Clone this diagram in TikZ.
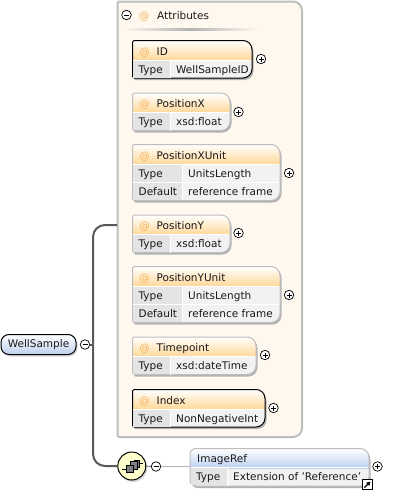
\documentclass[tikz,border=0pt]{standalone}
\usepackage{fontspec}
\setmainfont{DejaVu Sans}
\usetikzlibrary{calc,shadows,arrows.meta}
\definecolor{attrfill}{HTML}{FFF8EF}
\definecolor{attrline}{HTML}{BEBEBE}
\definecolor{headorange}{HTML}{FFD899}
\definecolor{headblue}{HTML}{BCD0F0}
\definecolor{keycell}{HTML}{E4E4E4}
\definecolor{valcell}{HTML}{F2F2F2}
\definecolor{seqfill}{HTML}{FFFFCC}
\definecolor{atsign}{HTML}{F5B55A}
\tikzset{>=latex,
  txt/.style={font=\fontsize{10.5}{12}\selectfont, inner sep=0pt, text=black!90},
  btn/.style={circle, draw=black, fill=white, line width=0.7pt, minimum size=9.5pt, inner sep=0pt},
  plusbtn/.style={btn, path picture={\draw[line width=0.6pt] (path picture bounding box.center) +(-2.5pt,0) -- +(2.5pt,0) +(0,-2.5pt) -- +(0,2.5pt);}},
  minusbtn/.style={btn, path picture={\draw[line width=0.6pt] (path picture bounding box.center) +(-2.5pt,0) -- +(2.5pt,0);}},
  trunk/.style={line width=2pt, draw=black!65, rounded corners=12pt},
  thinlink/.style={line width=1pt, draw=black!30},
  seqpart/.style={draw=black, fill=black!50, line width=0.6pt}
}
\newcommand{\leftrad}{1.5pt}
% frame of a box: left, top, right, bottom
\newcommand{\schemaframe}[4]{(#1,#4) [rounded corners=\leftrad] -- (#1,#2) [rounded corners=9pt] -- (#3,#2) -- (#3,#4) [rounded corners=\leftrad] -- cycle}
% name, left, top, right, bottom, head colour, line colour, line width
\newcommand{\xsdframe}[8]{
  \fill[black!30] \schemaframe{#2+1.5}{#3+2}{#4+1.5}{#5+2};
  \fill[valcell] \schemaframe{#2}{#3}{#4}{#5};
  \begin{scope}
    \clip \schemaframe{#2}{#3}{#4}{#5};
    \shade[top color=white, bottom color=#6] (#2,#3) rectangle (#4,#3+19.5);
  \end{scope}
  \draw[draw=#7, line width=#8] \schemaframe{#2}{#3}{#4}{#5};
}
% name, left, top, right, bottom, title, line colour, line width
\newcommand{\attrbox}[8]{
  \xsdframe{#1}{#2}{#3}{#4}{#5}{headorange}{#7}{#8}
  \node[txt, anchor=base, text=atsign] at (#2+12,#3+14.5) {@};
  \node[txt, anchor=base west] (#1) at (#2+24,#3+14.5) {#6};
}
% name, left, split, right, top, key, value
\newcommand{\xsdrow}[7]{
  \fill[keycell] (#2+0.7,#5+0.5) rectangle (#3-0.5,#5+17.5);
  \fill[white] (#3-0.5,#5) rectangle (#3+0.5,#5+18);
  \fill[white] (#2+0.7,#5-0.5) rectangle (#4-0.7,#5+0.5);
  \node[txt, anchor=base west] (#1key) at (#2+6,#5+13) {#6};
  \node[txt, anchor=base west] (#1val) at (#3+6,#5+13) {#7};
}
\begin{document}
\begin{tikzpicture}[x=1pt,y=-1pt]
  \useasboundingbox (0,0) rectangle (401,491);
  \fill[white] (0,0) rectangle (401,491);

  % attributes panel
  \fill[attrfill] \schemaframe{117.5}{1.5}{302}{437};
  \draw[attrline, line width=2pt] \schemaframe{117.5}{1.5}{302}{437};
  \node[minusbtn] (attrminus) at (126.5,15) {};
  \node[txt, anchor=base, text=atsign] (attrat) at (144,19) {@};
  \node[txt, anchor=base west] (attrtitle) at (157,19) {Attributes};
  \shade[left color=attrfill, right color=attrfill, middle color=black!30] (122,28.5) rectangle (258,30);
  \coordinate (attrin) at (117,225);

  % attribute boxes
  \attrbox{id}{132.5}{40.5}{252}{78}{ID}{black}{1pt}
  \xsdrow{idtype}{132.5}{170}{252}{60}{Type}{WellSampleID}
  \node[plusbtn] (idplus) at (261,59) {};

  \attrbox{posx}{132.5}{93}{230}{130.5}{PositionX}{attrline}{1pt}
  \xsdrow{posxtype}{132.5}{170}{230}{112.5}{Type}{xsd:float}
  \node[plusbtn] (posxplus) at (238.5,112) {};

  \attrbox{posxu}{132.5}{144.5}{280}{200.5}{PositionXUnit}{attrline}{1pt}
  \xsdrow{posxutype}{132.5}{182}{280}{164}{Type}{UnitsLength}
  \xsdrow{posxudef}{132.5}{182}{280}{182}{Default}{reference frame}
  \node[plusbtn] (posxuplus) at (289,173) {};

  \attrbox{posy}{132.5}{215}{230}{252.5}{PositionY}{attrline}{1pt}
  \xsdrow{posytype}{132.5}{170}{230}{234.5}{Type}{xsd:float}
  \node[plusbtn] (posyplus) at (238.5,233) {};

  \attrbox{posyu}{132.5}{266.5}{280}{322.5}{PositionYUnit}{attrline}{1pt}
  \xsdrow{posyutype}{132.5}{182}{280}{286}{Type}{UnitsLength}
  \xsdrow{posyudef}{132.5}{182}{280}{304}{Default}{reference frame}
  \node[plusbtn] (posyuplus) at (289,295) {};

  \attrbox{time}{132.5}{337}{256}{374.5}{Timepoint}{attrline}{1pt}
  \xsdrow{timetype}{132.5}{170}{256}{356.5}{Type}{xsd:dateTime}
  \node[plusbtn] (timeplus) at (265,355) {};

  \attrbox{index}{132.5}{389.5}{265}{427}{Index}{black}{1pt}
  \xsdrow{indextype}{132.5}{170}{265}{409}{Type}{NonNegativeInt}
  \node[plusbtn] (indexplus) at (273.5,408) {};

  % root element
  \node[rounded corners=8pt, minimum width=75pt, minimum height=20pt, inner sep=0pt, draw=black, line width=1pt,
    top color=white, bottom color=headblue, drop shadow={shadow xshift=1.5pt, shadow yshift=-2pt, fill=black!30}] (root) at (38.5,344.5) {};
  \node[txt] (roottxt) at (root.center) {WellSample};
  \node[minusbtn] (rootminus) at (85,344.5) {};
  \coordinate (trunkmid) at (93,344.5);
  \draw[line width=2pt, black!65] (rootminus.east) -- (trunkmid);

  % sequence compositor
  \node[circle, minimum size=28pt, inner sep=0pt, draw=black, line width=1pt, fill=seqfill,
    drop shadow={shadow xshift=1.5pt, shadow yshift=-2pt, fill=black!30}] (seq) at (131.8,466) {};
  \draw[trunk] (attrin) -| (trunkmid) |- (seq.west);
  \draw[black, line width=0.8pt] (122,469) -- (126,469) (139,463) -- (143,463);
  \draw[seqpart] (134,460) rectangle (139,467);
  \draw[seqpart] (130,461.5) rectangle (137,469);
  \draw[seqpart] (126,465) rectangle (133,472.5);
  \node[minusbtn] (seqminus) at (156,466.5) {};
  \draw[line width=0.8pt, black!60] (seq.east) -- (seqminus.west);

  % reference element
  \renewcommand{\leftrad}{6pt}
  \xsdframe{ref}{190}{448.5}{369}{486}{headblue}{attrline}{1pt}
  \node[txt, anchor=base west] (reftitle) at (197,462) {ImageRef};
  \xsdrow{reftype}{190}{227}{369}{467.5}{Type}{Extension of 'Reference'}
  \coordinate (refin) at (190,466.5);
  \draw[thinlink] (seqminus.east) -- (refin);
  \node[plusbtn] (refplus) at (377.5,466.5) {};
  \node[draw=black, fill=white, line width=1pt, minimum size=10pt, inner sep=0pt] (reflink) at (367.5,484.5) {};
  \draw[black, line width=1.4pt, -{Latex[length=4pt,width=5pt]}] (reflink.center) +(-3pt,-3pt) -- +(3pt,3pt);
\end{tikzpicture}
\end{document}
